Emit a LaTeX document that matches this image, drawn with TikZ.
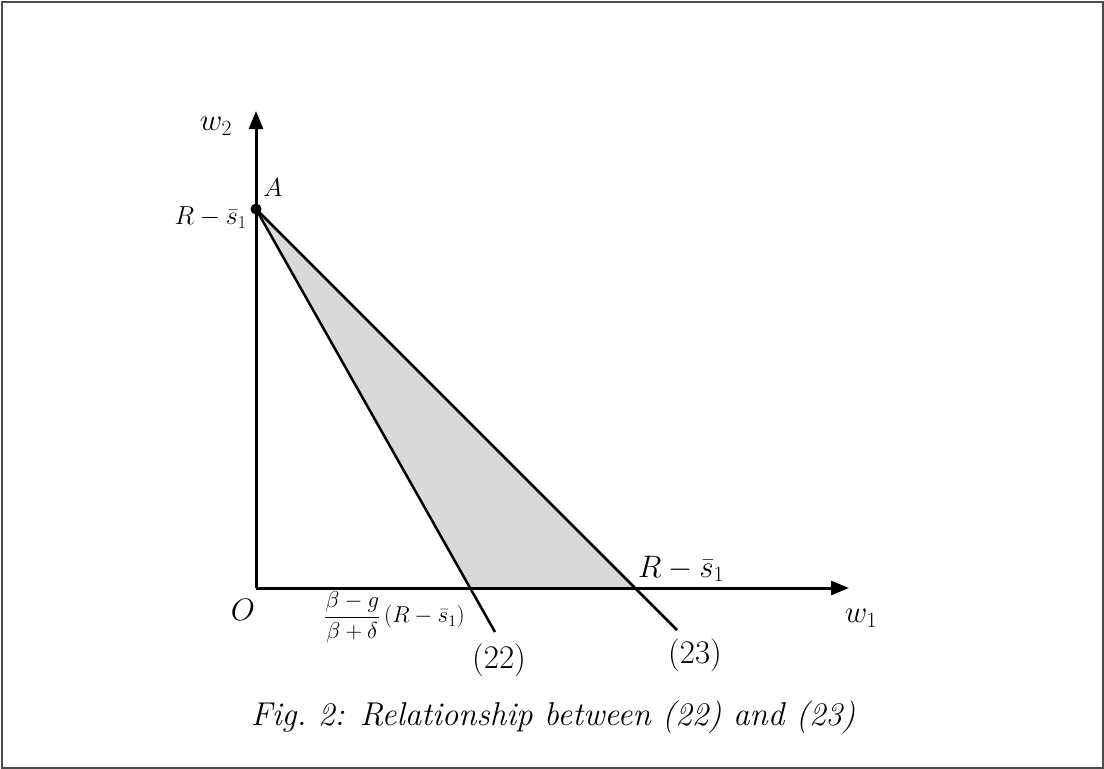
\RequirePackage{fix-cm}
\documentclass[tikz,border=0pt]{standalone}
\usetikzlibrary{arrows.meta}
\tikzset{
  axis/.style={line width=3pt,-{Triangle[length=18pt,width=14pt]}},
  curve/.style={line width=2.5pt},
  lbl/.style={font=\fontsize{26}{30}\selectfont,inner sep=0pt},
  biglbl/.style={font=\fontsize{31}{35}\selectfont,inner sep=0pt},
  numlbl/.style={font=\fontsize{33}{37}\selectfont,inner sep=0pt},
  captext/.style={font=\fontsize{33}{39}\selectfont\itshape,inner sep=0pt},
}
\begin{document}
\begin{tikzpicture}[x=1pt,y=-1pt]
\useasboundingbox (0,0) rectangle (1104,769);
\draw[line width=2pt,black!70] (1.5,1.5) rectangle (1102.5,767.5);
\coordinate (O) at (256,588);
\coordinate (ytip) at (256,111);
\coordinate (xtip) at (849,588);
\coordinate (A) at (256,209);
\coordinate (c22) at (470,588);
\coordinate (c23) at (637,588);
\coordinate (e22) at (495,632);
\coordinate (e23) at (677,630);
\fill[black!15] (A) -- (c22) -- (c23) -- cycle;
\draw[axis] (O) -- (ytip);
\draw[axis] (O) -- (xtip);
\draw[curve] (A) -- (e22);
\draw[curve] (A) -- (e23);
\fill (A) circle (5.5pt);
\node[biglbl] (lw2) at (216,126) {$w_2$};
\node[lbl] (lA) at (273,188) {$A$};
\node[lbl,anchor=east] (lRs) at (247,218) {$R-\bar{s}_1$};
\node[biglbl] (lO) at (243,610) {$O$};
\node[font=\fontsize{23}{27}\selectfont,inner sep=0pt,anchor=west] (lfrac) at (324,617) {$\displaystyle\frac{\beta-g}{\beta+\delta}\,(R-\bar{s}_1)$};
\node[numlbl] (l22) at (499,660) {(22)};
\node[numlbl] (l23) at (695,655) {(23)};
\node[biglbl] (lRs2) at (681,569) {$R-\bar{s}_1$};
\node[biglbl] (lw1) at (861,618) {$w_1$};
\node[captext] (caption) at (553,717) {Fig.\ 2: Relationship between (22) and (23)};
\end{tikzpicture}
\end{document}
